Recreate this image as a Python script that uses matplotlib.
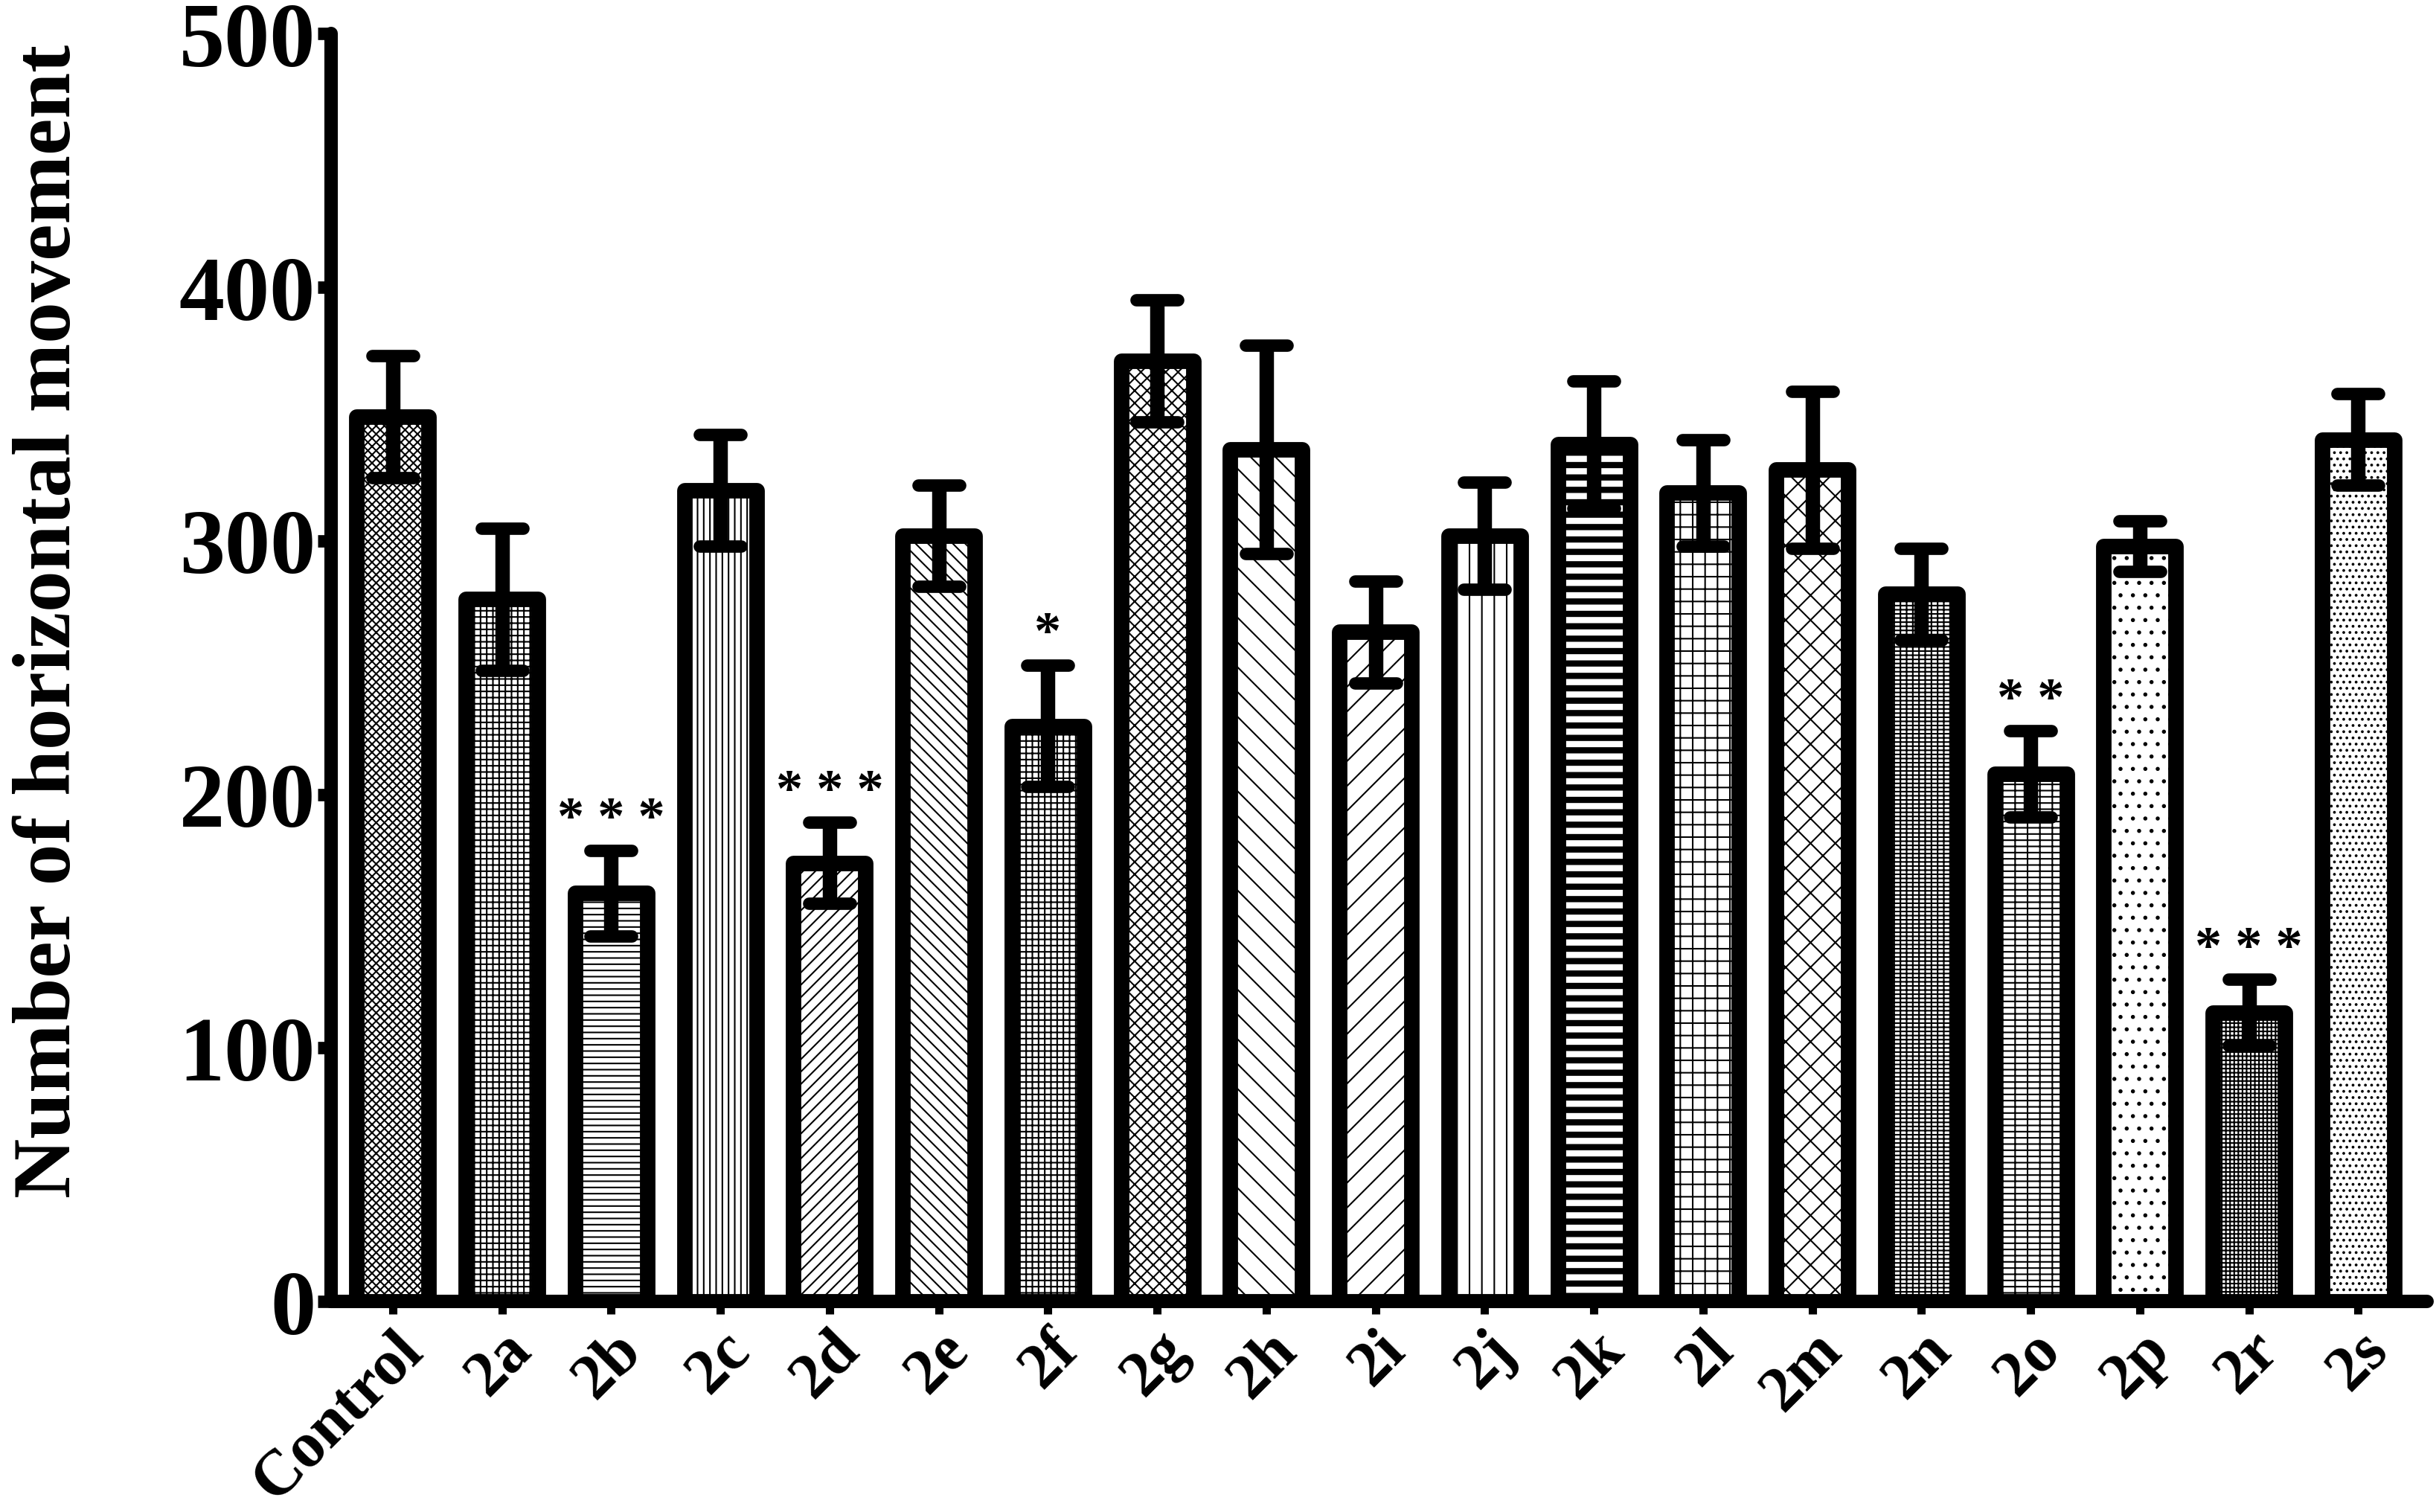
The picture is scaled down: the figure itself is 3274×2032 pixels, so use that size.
import matplotlib
matplotlib.use("Agg")
from matplotlib import pyplot as plt
from matplotlib.markers import MarkerStyle

plt.rcParams['font.family'] = ['Liberation Serif', 'DejaVu Serif']
plt.rcParams['font.weight'] = 'bold'
plt.rcParams['hatch.linewidth'] = 1.5
plt.rcParams['hatch.color'] = 'black'

# data
groups = ['Control', '2a', '2b', '2c', '2d', '2e', '2f', '2g', '2h', '2i',
          '2j', '2k', '2l', '2m', '2n', '2o', '2p', '2r', '2s']
means = [349, 277, 161, 320, 173, 302, 227, 371, 336, 264,
         302, 338, 319, 328, 279, 208, 298, 114, 340]
sems = [24, 28, 17, 22, 16, 20, 24, 24, 41, 20,
        21, 25, 21, 31, 18, 17, 10, 13, 18]
stars = ['', '', '***', '', '***', '', '*', '', '', '',
         '', '', '', '', '', '**', '', '***', '']
hatches = ['xxx', '++', '--', '||', '//', '\\\\', '++', 'xx',
           '\\', '/', '|', '-', '+', 'x', '++-', '-+', '.', '+++', '..']
y_ticks = [0, 100, 200, 300, 400, 500]

fig = plt.figure(figsize=(32.74, 20.33), dpi=100)
ax = fig.add_axes([0.1359, 0.1392, 0.8604, 0.838])

x = list(range(len(groups)))
bars = ax.bar(x, means, width=0.66, color='white', edgecolor='black',
              linewidth=15, zorder=2)
for b, h, g in zip(bars, hatches, groups):
    b.set_hatch(h)
    b.set_joinstyle('round')
    if g == '2k' and hasattr(b, 'set_hatch_linewidth'):
        b.set_hatch_linewidth(6)

eb = ax.errorbar(x, means, yerr=sems, fmt='none', ecolor='black',
                 elinewidth=14, capsize=20, capthick=12, zorder=3)
for cl in eb[1]:
    cl.set_marker(MarkerStyle('_', capstyle='round'))

for xi, m, s, st in zip(x, means, sems, stars):
    if st:
        ax.text(xi, m + s + 12, ' '.join(st), ha='center', va='center',
                fontsize=52, fontweight='bold')

ax.set_xlim(-0.565, 18.63)
ax.set_ylim(0, 500)
ax.set_yticks(y_ticks)
ax.set_xticks(x)
ax.set_xticklabels(groups, rotation=45, ha='right', rotation_mode='anchor',
                   fontsize=62, fontweight='bold')
ax.tick_params(axis='y', labelsize=88, length=13, width=12, pad=2)
ax.tick_params(axis='x', length=12, width=8, pad=6)
for lab in ax.get_yticklabels():
    lab.set_fontweight('bold')

ax.set_ylabel('Number of horizontal movement', fontsize=80, fontweight='bold')
ax.yaxis.set_label_coords(-0.1165, 0.537)

ax.spines['top'].set_visible(False)
ax.spines['right'].set_visible(False)
ax.spines['left'].set_linewidth(13)
ax.spines['bottom'].set_linewidth(13)
ax.spines['left'].set_capstyle('round')
ax.spines['bottom'].set_capstyle('round')

fig.savefig('out.png', dpi=100)
